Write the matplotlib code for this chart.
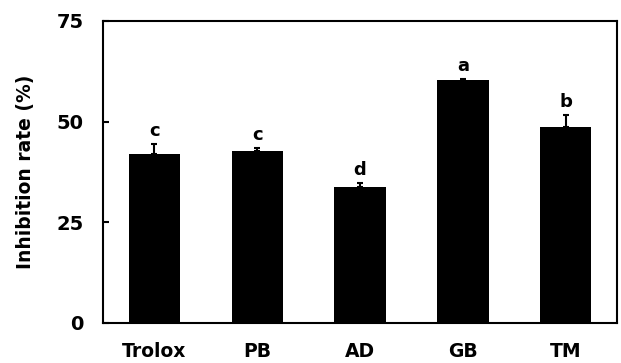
import numpy as np
import matplotlib
matplotlib.use("Agg")
import matplotlib.pyplot as plt

plt.rcParams["font.family"] = ["DejaVu Sans"]
plt.rcParams["font.weight"] = "bold"

labels = ["Trolox", "PB", "AD", "GB", "TM"]
values = [41.9, 42.7, 33.7, 60.3, 48.7]
errors = [2.5, 0.7, 1.0, 0.3, 2.9]
letters = ["c", "c", "d", "a", "b"]

fig = plt.figure(figsize=(6.21, 3.63), dpi=100)
ax = fig.add_axes([103 / 621, 1 - 323 / 363, 514 / 621, 302 / 363])

x = np.arange(len(labels))
ax.bar(x, values, width=0.5, color="black",
       yerr=[np.zeros(len(errors)), errors],
       error_kw=dict(ecolor="black", elinewidth=1.5, capsize=2.5, capthick=1.5))

for i, (v, e, l) in enumerate(zip(values, errors, letters)):
    ax.text(i, v + e + 2.0, l, ha="center", va="baseline", fontsize=13, fontweight="bold")

ax.set_xlim(-0.5, 4.5)
ax.set_ylim(0, 75)
ax.set_yticks([0, 25, 50, 75])
ax.set_xticks(x)
ax.set_xticklabels(labels, fontsize=13.5, fontweight="bold")
ax.tick_params(axis="y", direction="in", length=4, width=1.5, labelsize=14, pad=14)
ax.tick_params(axis="x", length=0, pad=14)
for s in ax.spines.values():
    s.set_linewidth(1.5)
ax.set_ylabel("Inhibition rate (%)", fontsize=13.5, fontweight="bold", labelpad=15)

fig.savefig("out.png", dpi=100)
